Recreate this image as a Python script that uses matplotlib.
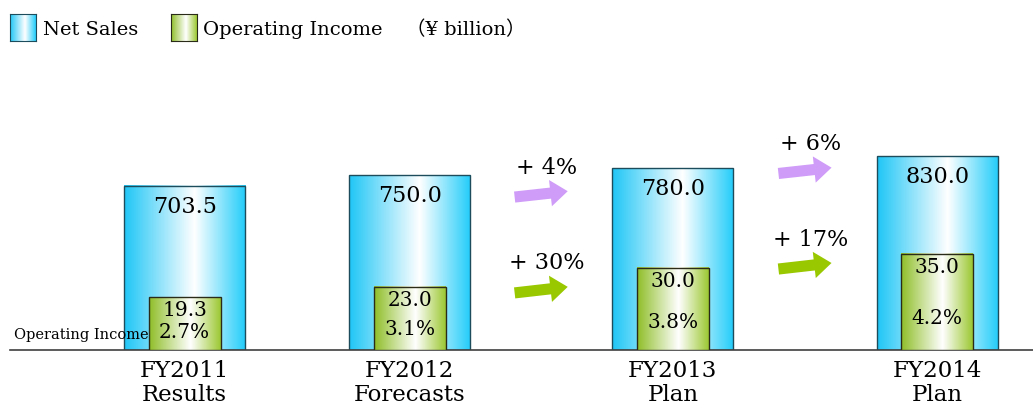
import numpy as np
import matplotlib
matplotlib.use("Agg")
import matplotlib.pyplot as plt
from matplotlib.colors import LinearSegmentedColormap
from matplotlib.patches import FancyArrowPatch

plt.rcParams['font.family'] = ['DejaVu Serif', 'Noto Sans CJK JP']

# data
periods = ["FY2011\nResults", "FY2012\nForecasts", "FY2013\nPlan", "FY2014\nPlan"]
net_sales = [703.5, 750.0, 780.0, 830.0]
op_income = [19.3, 23.0, 30.0, 35.0]
op_margin = [2.7, 3.1, 3.8, 4.2]
sales_growth = ["+ 4%", "+ 6%"]
income_growth = ["+ 30%", "+ 17%"]

# layout
x = np.array([0, 1, 2.17, 3.345])
sales_width = 0.538
income_width = 0.32

sales_cmap = LinearSegmentedColormap.from_list(
    "sales", [(0, "#1fc6f6"), (0.58, "#ffffff"), (1, "#22ccfa")])
income_cmap = LinearSegmentedColormap.from_list(
    "income", [(0, "#8fbe28"), (0.58, "#ffffff"), (1, "#9cc832")])
purple = "#cf9cf8"
green = "#99c800"

grad = np.linspace(0, 1, 256).reshape(1, -1)


def fill_gradient(a, bars, cmap):
    # horizontal gradient inside every bar
    for b in bars:
        x0, y0 = b.get_x(), b.get_y()
        a.imshow(grad, cmap=cmap, aspect='auto', zorder=1.5,
                 extent=(x0, x0 + b.get_width(), y0, y0 + b.get_height()))


def growth_arrow(a, xc, yc, rise, color, label):
    a.add_patch(FancyArrowPatch(
        (xc - 0.118, yc - rise / 2), (xc + 0.118, yc + rise / 2),
        arrowstyle='simple,head_length=1.25,head_width=1.9,tail_width=0.8',
        mutation_scale=10, color=color, lw=0, shrinkA=0, shrinkB=0, zorder=3))
    a.annotate(label, (xc, yc), xytext=(4, 19), textcoords='offset points',
               ha='center', va='center', fontsize=16)


fig = plt.figure(figsize=(10.33, 4.09), dpi=100)
ax = fig.add_axes([10 / 1033, 59 / 409, 1 - 10 / 1033, 350 / 409])
ax2 = ax.twinx()

sales_bars = ax.bar(x, net_sales, width=sales_width, facecolor='none',
                    edgecolor='#1d4d5c', linewidth=1, zorder=2)
fill_gradient(ax, sales_bars, sales_cmap)

income_bars = ax2.bar(x, op_income, width=income_width, facecolor='none',
                      edgecolor='#2b2b1a', linewidth=1, zorder=2)
fill_gradient(ax2, income_bars, income_cmap)

for xi, v in zip(x, net_sales):
    ax.annotate(f"{v:.1f}", (xi, v), xytext=(0, -15), textcoords='offset points',
                ha='center', va='center', fontsize=16, zorder=4)

for xi, v, m in zip(x, op_income, op_margin):
    ax2.annotate(f"{v:.1f}", (xi, v), xytext=(0, -10), textcoords='offset points',
                 ha='center', va='center', fontsize=14.5, zorder=4)
    ax2.text(xi, v * 0.33, f"{m}%", ha='center', va='center', fontsize=14.5, zorder=4)

# growth arrows between bars
mids = (x[1:3] + x[2:4]) / 2
for xc, yc, lab in zip(mids, [668, 769], sales_growth):
    growth_arrow(ax, xc, yc, 25, purple, lab)
for xc, yc, lab in zip(mids, [21.9, 30.6], income_growth):
    growth_arrow(ax2, xc, yc, 2.2, green, lab)

ax.text(-0.758, 64, "Operating Income", fontsize=10.5, va='center', zorder=5)

ax.set_xlim(-0.776, 3.771)
ax.set_ylim(0, 1500)
ax2.set_ylim(0, 127.5)
ax.set_xticks(x, periods, fontsize=16.5, linespacing=1.15)
ax.tick_params(axis='x', length=0, pad=7)
ax.set_yticks([])
ax2.set_yticks([])
for s in ['top', 'right', 'left']:
    ax.spines[s].set_visible(False)
for s in ax2.spines.values():
    s.set_visible(False)
ax.spines['bottom'].set_color('#404040')
ax.spines['bottom'].set_linewidth(1.2)

# legend
for left, cmap, edge in [(10, sales_cmap, '#1d4d5c'), (171, income_cmap, '#2b2b1a')]:
    sw = fig.add_axes([left / 1033, 1 - 41 / 409, 26 / 1033, 27 / 409])
    sw.imshow(grad, cmap=cmap, aspect='auto')
    sw.set_xticks([])
    sw.set_yticks([])
    for s in sw.spines.values():
        s.set_color(edge)
fig.text(43 / 1033, 1 - 30 / 409, "Net Sales", va='center', fontsize=14)
fig.text(203 / 1033, 1 - 30 / 409, "Operating Income", va='center', fontsize=14)
fig.text(406 / 1033, 1 - 30 / 409, "（¥ billion）", va='center', fontsize=14)

fig.savefig("out.png", dpi=100)
